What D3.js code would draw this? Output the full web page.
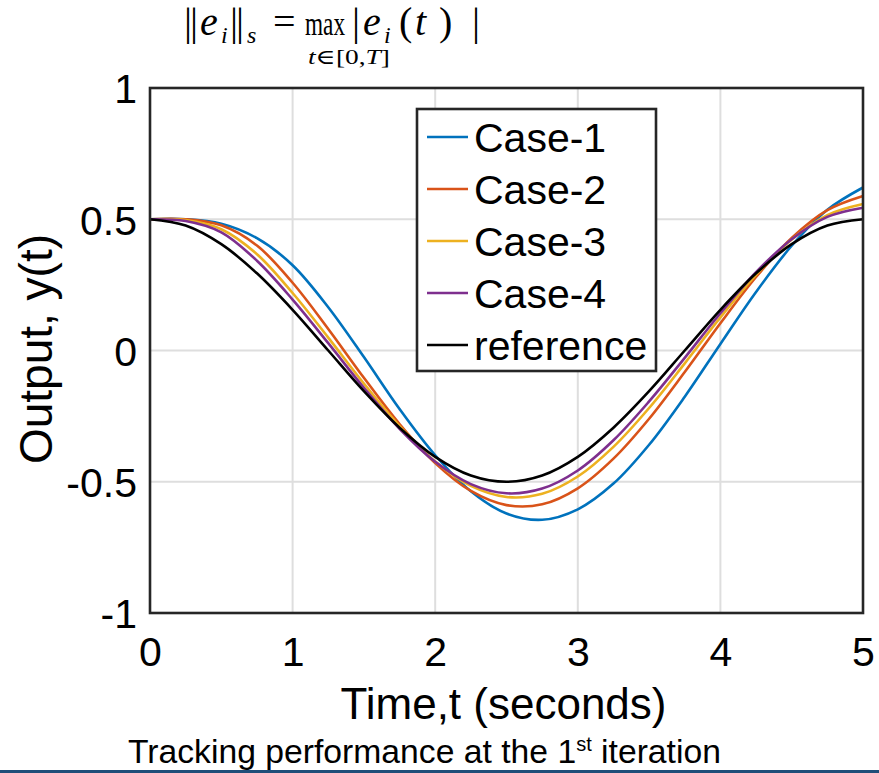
<!DOCTYPE html>
<html>
<head>
<meta charset="utf-8">
<script src="https://cdn.jsdelivr.net/npm/d3@7"></script>
<style>
  body { margin: 0; background: #fff; }
  svg text { font-family: "Liberation Sans", Arial, sans-serif; fill: #000; }
  .math text { font-family: "Liberation Serif", "DejaVu Serif", serif; }
</style>
</head>
<body>
<div id="chartDiv"></div>
<script>

// Data

var times    = [0, 0.25, 0.5, 0.75, 1, 1.25, 1.5, 1.75, 2, 2.25, 2.5,
                2.75, 3, 3.25, 3.5, 3.75, 4, 4.25, 4.5, 4.75, 5];

var case1    = [0.500, 0.500, 0.483, 0.428, 0.325, 0.165, -0.025, -0.223, -0.399, -0.536, -0.621,
                -0.645, -0.605, -0.507, -0.359, -0.176, 0.025, 0.223, 0.399, 0.536, 0.621];
var case2    = [0.500, 0.500, 0.477, 0.400, 0.258, 0.082, -0.104, -0.280, -0.429, -0.535, -0.589,
                -0.586, -0.525, -0.412, -0.260, -0.082, 0.104, 0.280, 0.429, 0.535, 0.589];
var case3    = [0.500, 0.497, 0.462, 0.367, 0.219, 0.049, -0.126, -0.288, -0.423, -0.516, -0.558,
                -0.546, -0.480, -0.367, -0.219, -0.049, 0.126, 0.288, 0.423, 0.516, 0.558];
var case4    = [0.500, 0.493, 0.450, 0.342, 0.194, 0.028, -0.142, -0.298, -0.424, -0.509, -0.544,
                -0.526, -0.457, -0.342, -0.194, -0.028, 0.142, 0.298, 0.424, 0.509, 0.544];
var refSig   = [0.500, 0.476, 0.405, 0.294, 0.155, 0.000, -0.155, -0.294, -0.405, -0.476, -0.500,
                -0.476, -0.405, -0.294, -0.155, 0.000, 0.155, 0.294, 0.405, 0.476, 0.500];

var seriesNames  = ["Case-1", "Case-2", "Case-3", "Case-4", "reference"];
var seriesValues = [case1, case2, case3, case4, refSig];
var seriesColors = ["#0072BD", "#D95319", "#EDB120", "#7E2F8E", "#000000"];

var xTicks = [0, 1, 2, 3, 4, 5];
var yTicks = [-1, -0.5, 0, 0.5, 1];

// Layout

var W = 879, H = 773;
var PLOT_LEFT = 150, PLOT_TOP = 88, PLOT_W = 713, PLOT_H = 525;

var svg = d3.select("#chartDiv").append("svg")
    .attr("width", W)
    .attr("height", H);

var x = d3.scaleLinear().domain([0, 5]).range([PLOT_LEFT, PLOT_LEFT + PLOT_W]);
var y = d3.scaleLinear().domain([-1, 1]).range([PLOT_TOP + PLOT_H, PLOT_TOP]);

/*---------------------------
| grid
-----------------*/

var grid = svg.append("g").attr("class", "grid");
grid.selectAll("line.vx")
    .data(xTicks.slice(1, -1))
  .enter().append("line")
    .attr("x1", d => x(d)).attr("x2", d => x(d))
    .attr("y1", PLOT_TOP).attr("y2", PLOT_TOP + PLOT_H)
    .attr("stroke", "#dedede").attr("stroke-width", 2);
grid.selectAll("line.hy")
    .data(yTicks.slice(1, -1))
  .enter().append("line")
    .attr("x1", PLOT_LEFT).attr("x2", PLOT_LEFT + PLOT_W)
    .attr("y1", d => y(d)).attr("y2", d => y(d))
    .attr("stroke", "#dedede").attr("stroke-width", 2);

/*---------------------------
| curves
-----------------*/

var line = d3.line()
    .x((d, i) => x(times[i]))
    .y(d => y(d))
    .curve(d3.curveCatmullRom);

svg.append("g").selectAll("path")
    .data(seriesValues)
  .enter().append("path")
    .attr("d", d => line(d))
    .attr("fill", "none")
    .attr("stroke", (d, i) => seriesColors[i])
    .attr("stroke-width", 2.6);

/*---------------------------
| axes
-----------------*/

var xAxis = d3.axisBottom(x).tickValues(xTicks).tickSize(0).tickPadding(24)
    .tickFormat(d => String(d));
var yAxis = d3.axisLeft(y).tickValues(yTicks).tickSize(0).tickPadding(13)
    .tickFormat(d => String(d));

var gx = svg.append("g")
    .attr("transform", "translate(0," + (PLOT_TOP + PLOT_H) + ")")
    .call(xAxis);
var gy = svg.append("g")
    .attr("transform", "translate(" + PLOT_LEFT + ",0)")
    .call(yAxis);

[gx, gy].forEach(function(g) {
    g.select(".domain").remove();
    g.selectAll("text")
        .style("font-family", '"Liberation Sans", Arial, sans-serif')
        .style("font-size", "41px")
        .attr("fill", "#262626");
});
gx.selectAll("text").attr("dy", "0.71em");
gy.selectAll("text").attr("dy", "0.36em");

// Box round the plot
svg.append("rect")
    .attr("x", PLOT_LEFT).attr("y", PLOT_TOP)
    .attr("width", PLOT_W).attr("height", PLOT_H)
    .attr("fill", "none")
    .attr("stroke", "#262626")
    .attr("stroke-width", 2.6);

// Axis labels
svg.append("text")
    .attr("x", (PLOT_LEFT + PLOT_LEFT + PLOT_W) / 2 - 3)
    .attr("y", 719)
    .attr("text-anchor", "middle")
    .style("font-size", "44px")
    .attr("fill", "#262626")
    .text("Time,t (seconds)");

svg.append("text")
    .attr("transform", "translate(52,349) rotate(-90)")
    .attr("text-anchor", "middle")
    .style("font-size", "46px")
    .attr("fill", "#262626")
    .text("Output, y(t)");

/*---------------------------
| legend
-----------------*/

var LEG_X = 417, LEG_Y = 109, LEG_W = 239, LEG_H = 262, ROW_H = 52;

var legend = svg.append("g").attr("class", "legend");
legend.append("rect")
    .attr("x", LEG_X).attr("y", LEG_Y)
    .attr("width", LEG_W).attr("height", LEG_H)
    .attr("fill", "#fff")
    .attr("stroke", "#262626")
    .attr("stroke-width", 2.6);

var rows = legend.selectAll("g.row")
    .data(seriesNames)
  .enter().append("g")
    .attr("class", "row")
    .attr("transform", (d, i) => "translate(" + LEG_X + "," + (LEG_Y + 28 + i * ROW_H) + ")");

rows.append("line")
    .attr("x1", 10).attr("x2", 51)
    .attr("y1", 0).attr("y2", 0)
    .attr("stroke", (d, i) => seriesColors[i])
    .attr("stroke-width", 2.6);

rows.append("text")
    .attr("x", 57)
    .attr("dy", "0.36em")
    .style("font-size", "41px")
    .text(d => d);

/*---------------------------
| formula above the plot
-----------------*/

// Each glyph placed on its own, as the equation editor did it.
var math = svg.append("g").attr("class", "math");

var mathGlyph = function(txt, gx, gy, size, italic, len) {
    let t = math.append("text")
        .attr("x", gx).attr("y", gy)
        .style("font-size", size + "px")
        .style("font-style", italic ? "italic" : "normal")
        .text(txt);
    if (len) {
        t.attr("textLength", len).attr("lengthAdjust", "spacingAndGlyphs");
    }
    return t;
};

// double bars drawn as two thin bars
mathGlyph("||", 184, 35, 40, false).style("letter-spacing", "-2px");
mathGlyph("e", 200, 35, 40, true);
mathGlyph("i", 221, 43, 24, true);
mathGlyph("||", 230, 35, 40, false).style("letter-spacing", "-2px");
mathGlyph("s", 247, 43, 24, true);
mathGlyph("=", 273, 35, 40, false);
mathGlyph("max", 305, 35, 33, false, 40);
mathGlyph("|", 352, 35, 40, false);
mathGlyph("e", 363, 35, 40, true);
mathGlyph("i", 384, 43, 24, true);
mathGlyph("(", 399, 35, 40, false);
mathGlyph("t", 415, 35, 40, true);
mathGlyph(")", 439, 35, 40, false);
mathGlyph("|", 472, 35, 40, false);

var sub = math.append("text")
    .attr("x", 308).attr("y", 64)
    .style("font-size", "21px")
    .attr("textLength", 82).attr("lengthAdjust", "spacingAndGlyphs");
sub.append("tspan").style("font-style", "italic").text("t");
sub.append("tspan").text("\u2208[0,");
sub.append("tspan").style("font-style", "italic").text("T");
sub.append("tspan").text("]");

/*---------------------------
| caption and bottom rule
-----------------*/

var cap = svg.append("text")
    .attr("x", 128).attr("y", 763)
    .style("font-size", "33.7px");
cap.append("tspan").text("Tracking performance at the 1");
cap.append("tspan").attr("dy", -12).style("font-size", "20px").text("st");
cap.append("tspan").attr("dy", 12).text(" iteration");

svg.append("line")
    .attr("x1", 0).attr("x2", W)
    .attr("y1", 771.5).attr("y2", 771.5)
    .attr("stroke", "#1f4e79")
    .attr("stroke-width", 3);

</script>
</body>
</html>
